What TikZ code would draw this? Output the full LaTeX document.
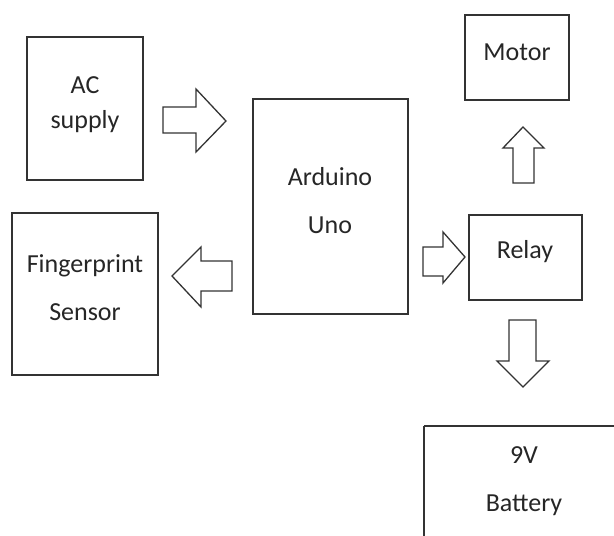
\documentclass[tikz,border=0pt]{standalone}
\usepackage{fontspec}
\setmainfont{Carlito}
\begin{document}
\begin{tikzpicture}[x=1pt,y=-1pt,
  blockbox/.style={draw=black!80,line width=1.5pt},
  blockarrow/.style={draw=black!80,line width=1.3pt,fill=white,line join=miter},
  lbl/.style={anchor=base,inner sep=0pt,font=\fontsize{26}{30}\selectfont,text=black!85}]
\useasboundingbox (0,0) rectangle (614,536);
% boxes
\draw[blockbox] (27,37) rectangle (143,180) coordinate (acbox);
\draw[blockbox] (253,99) rectangle (408,314);
\draw[blockbox] (12,213) rectangle (158,375);
\draw[blockbox] (465,15) rectangle (569,100);
\draw[blockbox] (469,215) rectangle (582,300);
\draw[blockbox] (424,426) -- (424,540) (424,426) -- (618,426);
% texts
\node[lbl] (t1) at (85,93) {AC};
\node[lbl] (t2) at (85,128) {supply};
\node[lbl] (t3) at (330,185) {Arduino};
\node[lbl] (t4) at (330,233) {Uno};
\node[lbl] (t5) at (85,272) {Fingerprint};
\node[lbl] (t6) at (85,320) {Sensor};
\node[lbl] (t7) at (517,60) {Motor};
\node[lbl] (t8) at (525,258) {Relay};
\node[lbl] (t9) at (524,463) {9V};
\node[lbl] (t10) at (524,511) {Battery};
% block arrows
\draw[blockarrow] (163,107) -- (196,107) -- (196,89) -- (226,121) -- (196,152) -- (196,133) -- (163,133) -- cycle;
\draw[blockarrow] (232,261) -- (201,261) -- (201,247) -- (172,276) -- (201,307) -- (201,291) -- (232,291) -- cycle;
\draw[blockarrow] (423,247) -- (443,247) -- (443,232) -- (465,257) -- (443,283) -- (443,276) -- (423,276) -- cycle;
\draw[blockarrow] (513,183) -- (513,148) -- (503,148) -- (523,127) -- (544,148) -- (534,148) -- (534,183) -- cycle;
\draw[blockarrow] (509,320) -- (536,320) -- (536,361) -- (549,361) -- (523,387) -- (497,361) -- (509,361) -- cycle;
\end{tikzpicture}
\end{document}
